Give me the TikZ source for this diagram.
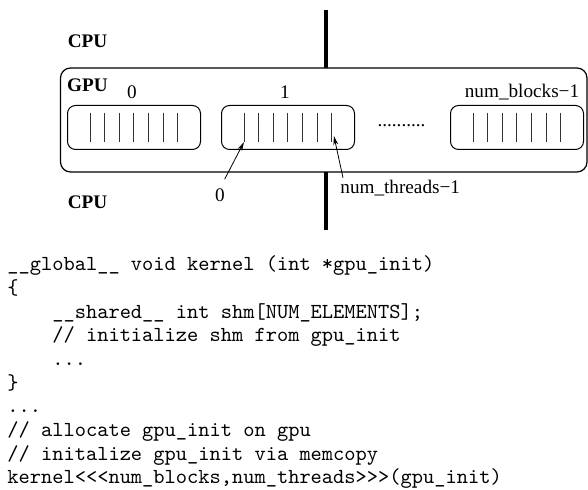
\documentclass[tikz,border=0pt]{standalone}
\usepackage{fontspec}
\setmainfont{Liberation Serif}
\usetikzlibrary{arrows.meta}

\tikzset{
    lbl/.style = {font=\fontsize{9.6}{11}\selectfont, inner sep=0pt},
    cpulbl/.style = {lbl, font=\fontsize{9.6}{11}\selectfont\bfseries},
    blockbox/.style = {draw, line width=0.5pt, rounded corners=4pt,
        minimum width=66.5pt, minimum height=22pt, inner sep=0pt},
    thread/.style = {line width=0.5pt, black!80},
    ptr/.style = {-{Stealth[length=4.5pt,width=2.4pt]}, line width=0.4pt},
}

\begin{document}
\begin{tikzpicture}[x=0.5pt, y=-0.5pt]
    \useasboundingbox (0,0) rectangle (588,490);

    % host / device divider
    \coordinate (divtop) at (326,10);
    \coordinate (divbot) at (326,230);
    \draw[line width=2pt] (divtop) -- (divbot);

    \node[cpulbl] (cpuup) at (87.5,41) {CPU};
    \node[cpulbl] (cpudown) at (87.5,202) {CPU};

    % the device with its blocks
    \draw[fill=white, line width=0.6pt, rounded corners=5pt] (60.5,68) rectangle (587,172);
    \node[cpulbl] (gpu) at (87.5,85) {GPU};

    \foreach \bx [count=\b from 0] in {67,221,450} {
        \node[blockbox, anchor=north west] (blk\b) at (\bx,105) {};
        \foreach \t in {0,...,6}
            \draw[thread] (\bx+23+14.65*\t,113) -- (\bx+23+14.65*\t,142) coordinate (b\b t\t);
    }

    \node[lbl] (n0) at (132,92) {0};
    \node[lbl] (n1) at (285,92) {1};
    \node[lbl] (nlast) at (522,92) {num\_blocks−1};
    \node[lbl] (dots) at (401.5,126) {..........};

    % thread indices
    \node[lbl] (tfirst) at (220,195) {0};
    \node[lbl, anchor=west] (tlast) at (340,188) {num\_threads−1};
    \draw[ptr, shorten <=5pt] (tfirst.north) -- (b1t0);
    \draw[ptr] ([xshift=1.5pt, yshift=1pt]tlast.north west) -- ([xshift=1pt, yshift=3pt]b1t6);

    % host code
    \node[anchor=base west, inner sep=0pt, align=left,
          font=\fontsize{10.7}{11.85}\selectfont\ttfamily] (code) at (7,484) {%
        \_\_global\_\_ void kernel (int *gpu\_init)\\
        \{\\
        \phantom{xxxx}\_\_shared\_\_ int shm[NUM\_ELEMENTS];\\
        \phantom{xxxx}// initialize shm from gpu\_init\\
        \phantom{xxxx}...\\
        \}\\
        ...\\
        // allocate gpu\_init on gpu\\
        // initalize gpu\_init via memcopy\\
        kernel<<<num\_blocks,num\_threads>>>(gpu\_init)};
\end{tikzpicture}
\end{document}
